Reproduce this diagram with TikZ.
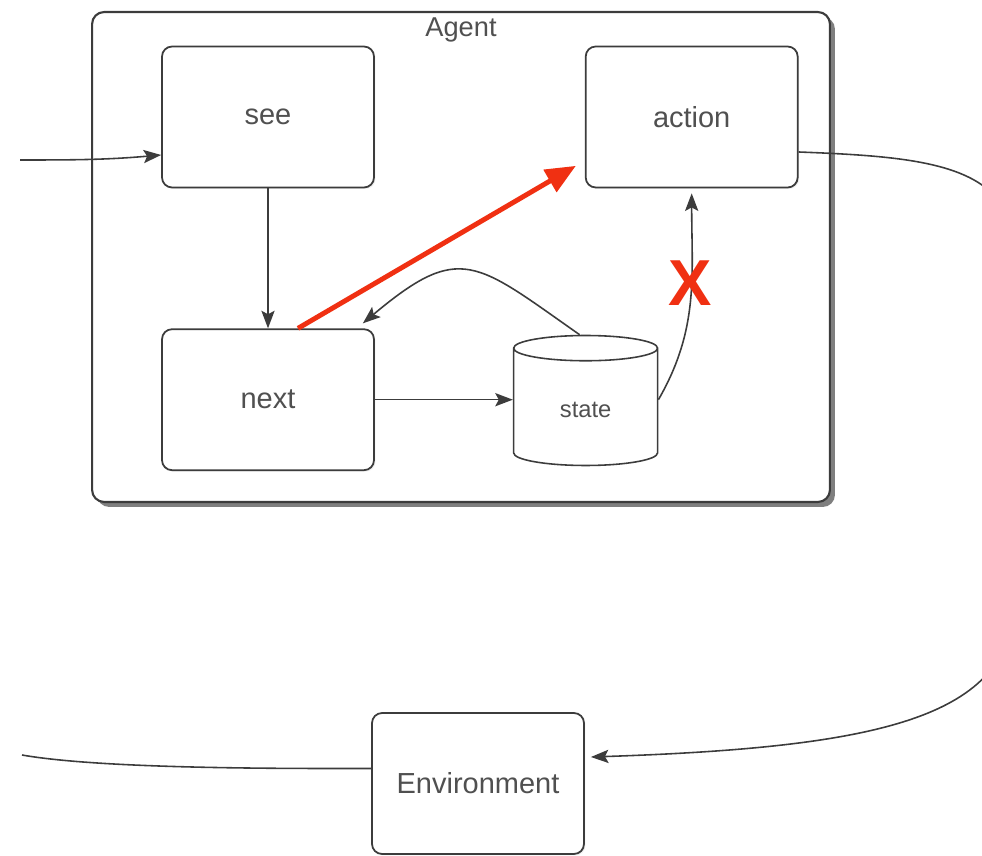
\documentclass[tikz,border=0pt]{standalone}
\usepackage{fontspec}
\setmainfont{Liberation Sans}
\usepackage{tikz}
\usetikzlibrary{positioning,shapes.geometric,shadows,arrows.meta}
\definecolor{linegray}{RGB}{60,60,60}
\definecolor{textgray}{RGB}{80,80,80}
\definecolor{markred}{RGB}{240,48,18}

\tikzset{
  frame/.style={draw=linegray, line width=1.2pt, rounded corners=0.24cm, fill=white,
    minimum width=14.76cm, minimum height=9.8cm,
    drop shadow={shadow xshift=0.1cm, shadow yshift=-0.1cm, fill=black, opacity=0.5}},
  box/.style={draw=linegray, line width=1pt, rounded corners=0.2cm, fill=white,
    minimum width=4.24cm, minimum height=2.82cm, text=textgray, font=\fontsize{16.5}{18}\selectfont,
    drop shadow={shadow xshift=0.03cm, shadow yshift=-0.03cm, opacity=0.12}},
  store/.style={draw=linegray, line width=0.9pt, cylinder, shape border rotate=90, aspect=0.4,
    minimum width=2.88cm, minimum height=2.6cm, fill=white, text=textgray, font=\fontsize{13.5}{15}\selectfont},
  flow/.style={color=linegray, line width=0.9pt, -{Stealth[length=10pt,width=7.5pt,inset=2pt]}},
  wire/.style={color=linegray, line width=0.9pt},
  hint/.style={draw=markred, line width=2.8pt, -{Triangle[length=0.6cm,width=0.5cm]}},
  xmark/.style={text=markred, font=\fontsize{37}{37}\selectfont\bfseries},
}

\begin{document}
\begin{tikzpicture}[x=0.02cm, y=0.02cm]
  \clip (0,0) rectangle (982,855);

  % agent frame
  \node[frame] (agent) at (461,598) {};
  \node[text=textgray, font=\fontsize{15.5}{18}\selectfont] (agentlbl) at ([yshift=-0.38cm]agent.north) {Agent};

  \node[box] (see) at (268,738) {see};
  \node[box, right=4.2cm of see] (action) {action};
  \node[box, below=2.8cm of see] (next) {next};
  \node[store, right=2.76cm of next, yshift=-0.2cm] (state) {state};
  \node[box] (env) at (478,71.5) {Environment};

  \coordinate (inL) at (20,695);
  \coordinate (outL) at (22,100);
  \coordinate (rimT) at (1015,600);
  \coordinate (rimB) at (1015,260);

  \path[flow]
  (inL) edge[out=0, in=185] ([yshift=-0.76cm]see.west)
  (see) edge (next)
  (next.east) edge (next.east -| state.west)
  ([xshift=-0.12cm]state.north) edge[out=145, in=40, looseness=1.5] ([shift={(-0.24cm,0.1cm)}]next.north east)
  ([yshift=0.2cm]state.east) edge[out=60, in=-90] ([yshift=-0.1cm]action.south)
  ;
  \path[wire]
  ([yshift=0.3cm]env.west) edge[out=180, in=-10, looseness=0.6] (outL);

  \draw[flow] ([yshift=-0.7cm]action.east) .. controls +(130,-5) and +(0,90) .. (rimT)
    -- (rimB) .. controls +(0,-120) and +(300,10) .. ([shift={(0.12cm,0.53cm)}]env.east);

  \node[xmark] (cross) at (690,572) {X};
  \draw[hint] ([xshift=0.6cm]next.north) -- ([shift={(-0.18cm,0.45cm)}]action.south west);
\end{tikzpicture}
\end{document}
